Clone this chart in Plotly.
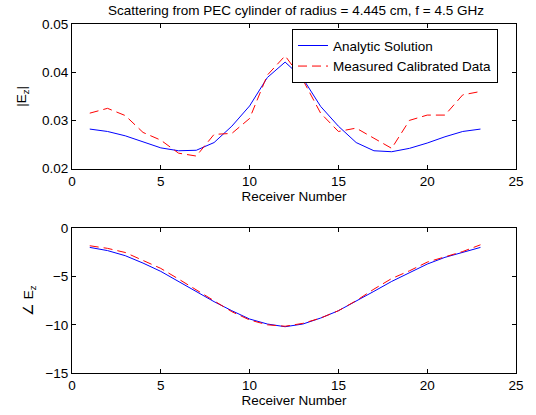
import plotly.graph_objects as go
from plotly.subplots import make_subplots

receivers = list(range(1, 24))

mag_analytic = [0.0282, 0.0277, 0.0268, 0.0256, 0.0243, 0.0237, 0.0238, 0.0254, 0.0288, 0.0330,
                0.0389, 0.0421, 0.0387, 0.0329, 0.0288, 0.0254, 0.0237, 0.0235, 0.0242, 0.0253,
                0.0266, 0.0277, 0.0282]
mag_measured = [0.0315, 0.0325, 0.0310, 0.0275, 0.0259, 0.0232, 0.0226, 0.0271, 0.0273, 0.0304,
                0.0394, 0.0434, 0.0384, 0.0315, 0.0277, 0.0284, 0.0263, 0.0242, 0.0300, 0.0311,
                0.0311, 0.0353, 0.0360]

phase_analytic = [-1.97, -2.3, -2.83, -3.6, -4.46, -5.5, -6.53, -7.6, -8.54, -9.4,
                  -9.92, -10.2, -9.92, -9.3, -8.54, -7.57, -6.53, -5.5, -4.56, -3.7,
                  -3.0, -2.5, -1.97]
phase_measured = [-1.8, -2.07, -2.5, -3.3, -4.15, -5.25, -6.4, -7.57, -8.64, -9.5,
                  -10.0, -10.15, -9.85, -9.3, -8.54, -7.5, -6.3, -5.2, -4.4, -3.5,
                  -2.94, -2.4, -1.7]

title_text = "Scattering from PEC cylinder of radius = 4.445 cm, f = 4.5 GHz"

FS = 13.5
W, H = 536, 415
DASH = "9px,5px"

fig = make_subplots(rows=2, cols=1, vertical_spacing=0.17)

fig.add_trace(go.Scatter(x=receivers, y=mag_analytic, mode="lines", name="Analytic Solution",
                         line=dict(color="#0000ff", width=1)), row=1, col=1)
fig.add_trace(go.Scatter(x=receivers, y=mag_measured, mode="lines", name="Measured Calibrated Data",
                         line=dict(color="#ff0000", width=1, dash=DASH)), row=1, col=1)
fig.add_trace(go.Scatter(x=receivers, y=phase_analytic, mode="lines", showlegend=False,
                         line=dict(color="#0000ff", width=1)), row=2, col=1)
fig.add_trace(go.Scatter(x=receivers, y=phase_measured, mode="lines", showlegend=False,
                         line=dict(color="#ff0000", width=1, dash=DASH)), row=2, col=1)

axis_common = dict(showline=True, linecolor="black", linewidth=1, mirror="allticks",
                   ticks="inside", ticklen=4, tickcolor="black", showgrid=False, zeroline=False,
                   tickfont=dict(size=FS, color="black"))

fig.update_xaxes(range=[0, 25], tickvals=[0, 5, 10, 15, 20, 25], **axis_common)
fig.update_xaxes(title=dict(text="Receiver Number", font=dict(size=FS, color="black"), standoff=0), row=1, col=1)
fig.update_xaxes(title=dict(text="Receiver Number", font=dict(size=FS, color="black"), standoff=0), row=2, col=1)

fig.update_yaxes(**axis_common)
fig.update_yaxes(range=[0.02, 0.05], tickvals=[0.02, 0.03, 0.04, 0.05], tickformat=".2f",
                 title=dict(text="|E<sub>z</sub>|", font=dict(size=FS, color="black"), standoff=12),
                 domain=[0.5857, 1.0], row=1, col=1)
fig.update_yaxes(range=[-15, 0], tickvals=[-15, -10, -5, 0],
                 title=dict(text="∠ E<sub>z</sub>", font=dict(size=FS, color="black"), standoff=8),
                 domain=[0.0, 0.4143], row=2, col=1)

fig.update_layout(
    width=W, height=H,
    margin=dict(l=72, r=16, t=24, b=41),
    paper_bgcolor="white", plot_bgcolor="white",
    font=dict(family="Liberation Sans, Arial, sans-serif", size=FS, color="black"),
    title=dict(text=title_text, x=(72 + 448 / 2) / W, xanchor="center", y=1 - 10 / H, yanchor="middle",
               font=dict(size=FS, color="black")),
    legend=dict(x=0.4955, y=0.985, xanchor="left", yanchor="top", bordercolor="black", borderwidth=1,
                bgcolor="white", font=dict(size=FS, color="black"), tracegroupgap=0),
    showlegend=True,
)

fig.write_html("out.html", config={"displayModeBar": False},
               post_script="document.body.style.margin='0';")
